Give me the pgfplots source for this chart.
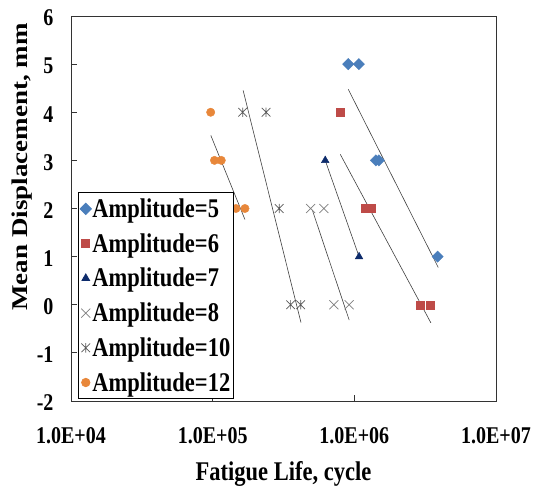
\documentclass[border=0pt]{standalone}
\usepackage{pgfplots}
\pgfplotsset{compat=1.18}
\usepackage{fontspec}
\setmainfont{Liberation Serif}
\usepackage{graphicx}
\usetikzlibrary{plotmarks}
\definecolor{c5}{HTML}{4A7EBB}
\definecolor{c6}{HTML}{BE4B48}
\definecolor{c7}{HTML}{0D2B6B}
\definecolor{c8}{HTML}{7F7F7F}
\definecolor{c10}{HTML}{595959}
\definecolor{c12}{HTML}{E8873A}
\pgfdeclareplotmark{xx}{%
 \pgfpathmoveto{\pgfqpoint{-\pgfplotmarksize}{-\pgfplotmarksize}}%
 \pgfpathlineto{\pgfqpoint{\pgfplotmarksize}{\pgfplotmarksize}}%
 \pgfpathmoveto{\pgfqpoint{-\pgfplotmarksize}{\pgfplotmarksize}}%
 \pgfpathlineto{\pgfqpoint{\pgfplotmarksize}{-\pgfplotmarksize}}%
 \pgfusepathqstroke}
\pgfdeclareplotmark{xbar}{%
 \pgfpathmoveto{\pgfqpoint{-\pgfplotmarksize}{-\pgfplotmarksize}}%
 \pgfpathlineto{\pgfqpoint{\pgfplotmarksize}{\pgfplotmarksize}}%
 \pgfpathmoveto{\pgfqpoint{-\pgfplotmarksize}{\pgfplotmarksize}}%
 \pgfpathlineto{\pgfqpoint{\pgfplotmarksize}{-\pgfplotmarksize}}%
 \pgfpathmoveto{\pgfqpoint{0pt}{-1.1\pgfplotmarksize}}%
 \pgfpathlineto{\pgfqpoint{0pt}{1.1\pgfplotmarksize}}%
 \pgfusepathqstroke}
\newcommand{\sy}[1]{\scalebox{1}[1.2]{#1}}
\begin{document}
\begin{tikzpicture}
\begin{axis}[
  name=ax,
  scale only axis,
  width=425pt, height=385pt,
  xmode=log,
  xmin=1e4, xmax=1e7,
  ymin=-2, ymax=6,
  xtick={1e4,1e5,1e6,1e7},
  xticklabels={\sy{1.0E+04},\sy{1.0E+05},\sy{1.0E+06},\sy{1.0E+07}},
  ytick={-2,-1,0,1,2,3,4,5,6},
  yticklabels={\sy{-2},\sy{-1},\sy{0},\sy{1},\sy{2},\sy{3},\sy{4},\sy{5},\sy{6}},
  xminorticks=false,
  xtick pos=bottom, ytick pos=left,
  tick align=inside,
  major tick length=6pt,
  every tick/.style={black!80, line width=0.8pt},
  axis line style={black!80, line width=0.9pt},
  every tick label/.append style={font=\fontsize{20}{24}\selectfont\bfseries},
  xticklabel style={anchor=center, yshift=-35pt},
  yticklabel style={anchor=east, xshift=-14pt, yshift=-2pt},
  xlabel={\sy{Fatigue Life, cycle}},
  ylabel={\scalebox{1.2}[1]{Mean Displacement, mm}},
  xlabel style={at={(axis description cs:0.5,-0.19)}, anchor=center, font=\fontsize{22.5}{26}\selectfont\bfseries},
  ylabel style={at={(axis description cs:-0.116,0.608)}, anchor=center, font=\fontsize{22.5}{26}\selectfont\bfseries},
  legend style={at={(axis description cs:0.0158,0.542)}, anchor=north west,
    draw=black, line width=0.8pt, fill=white,
    font=\fontsize{22.5}{26}\selectfont\bfseries,
    row sep=12.5pt, inner xsep=2pt, inner ysep=5pt,
    nodes={inner sep=1pt}},
  legend cell align=left,
]
% trend lines
\addplot[black!75, line width=0.6pt, forget plot] coordinates {(9.06e5,4.476) (3.91e6,0.776)};
\addplot[black!75, line width=0.6pt, forget plot] coordinates {(7.96e5,3.125) (3.47e6,-0.376)};
\addplot[black!75, line width=0.6pt, forget plot] coordinates {(6.23e5,3.0) (1.08e6,1.0)};
\addplot[black!75, line width=0.6pt, forget plot] coordinates {(5.05e5,1.97) (9.2e5,-0.32)};
\addplot[black!75, line width=0.6pt, forget plot] coordinates {(1.64e5,4.455) (4.2e5,-0.37)};
\addplot[black!75, line width=0.6pt, forget plot] coordinates {(9.7e4,3.52) (1.69e5,1.77)};
% data
\addplot[only marks, mark=square*, mark size=4pt, mark options={rotate=45, fill=c5, draw=c5}]
  coordinates {(9.06e5,5) (1.077e6,5) (1.42e6,3) (1.49e6,3) (3.87e6,1)};
\addlegendentry{\sy{Amplitude=5}}
\addplot[only marks, mark=square*, mark size=4pt, mark options={fill=c6, draw=c6}]
  coordinates {(7.91e5,4) (1.19e6,2) (1.32e6,2) (2.94e6,0) (3.45e6,0)};
\addlegendentry{\sy{Amplitude=6}}
\addplot[only marks, mark=triangle*, mark size=4.4pt, mark options={fill=c7, draw=c7}]
  coordinates {(6.23e5,3) (1.08e6,1)};
\addlegendentry{\sy{Amplitude=7}}
\addplot[only marks, mark=xx, mark size=4.5pt, mark options={draw=c8, line width=0.7pt}]
  coordinates {(4.92e5,2) (6.1e5,2) (7.18e5,0) (9.2e5,0)};
\addlegendentry{\sy{Amplitude=8}}
\addplot[only marks, mark=xbar, mark size=4.3pt, mark options={draw=c10, line width=0.7pt}]
  coordinates {(1.63e5,4) (2.38e5,4) (2.95e5,2) (3.55e5,0) (4.18e5,0)};
\addlegendentry{\sy{Amplitude=10}}
\addplot[only marks, mark=*, mark size=4.2pt, mark options={fill=c12, draw=c12}]
  coordinates {(9.68e4,4) (1.03e5,3) (1.15e5,3) (1.46e5,2) (1.69e5,2)};
\addlegendentry{\sy{Amplitude=12}}
\end{axis}
\pgfresetboundingbox
\path ([xshift=-71pt,yshift=-86pt]ax.south west) rectangle ([xshift=41pt,yshift=16pt]ax.north east);
\end{tikzpicture}
\end{document}
